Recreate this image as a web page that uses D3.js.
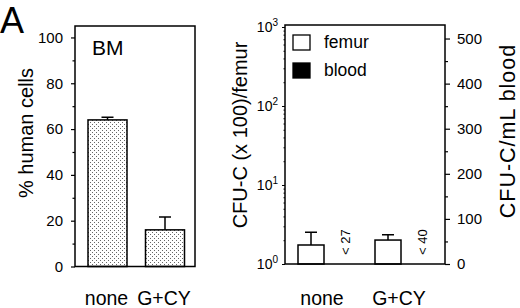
<!DOCTYPE html>
<html>
<head>
<meta charset="utf-8">
<script src="https://cdn.jsdelivr.net/npm/d3@7"></script>
<style>
  body { margin: 0; background: #fff; }
  svg { font-family: "Liberation Sans", Arial, sans-serif; }
</style>
</head>
<body>
<script>
// data
var categories = ["none", "G+CY"];
var humanCells = [64, 16];          // % human cells in BM
var humanCellsErr = [1.2, 5.6];
var femurCFU = [1.74, 2.01];         // CFU-C (x 100)/femur
var femurCFUErr = [0.78, 0.34];
var bloodLabels = ["< 27", "< 40"]; // CFU-C/mL blood, below detection
var leftTicks = [0, 20, 40, 60, 80, 100];
var logTicks = [1, 10, 100, 1000];
var bloodTicks = [0, 100, 200, 300, 400, 500];

var width = 520, height = 308;

var svg = d3.select("body").append("svg")
    .attr("width", width)
    .attr("height", height);

// stipple fill for the BM bars
var pat = svg.append("defs").append("pattern")
    .attr("id", "stipple")
    .attr("width", 4).attr("height", 4)
    .attr("patternUnits", "userSpaceOnUse");
pat.append("rect").attr("width", 4).attr("height", 4).attr("fill", "#fff");
pat.append("rect").attr("x", 0).attr("y", 0).attr("width", 1).attr("height", 1).attr("fill", "#666");
pat.append("rect").attr("x", 2).attr("y", 2).attr("width", 1).attr("height", 1).attr("fill", "#666");

svg.append("text")
    .attr("x", 0).attr("y", 33)
    .attr("font-size", 36)
    .text("A");

// ---------- left panel ----------
var L = { x0: 75, x1: 195, y0: 26, y1: 266.5 };

var yL = d3.scaleLinear().domain([0, 105]).range([L.y1, L.y0]);
var xL = d3.scalePoint().domain(categories).range([107.5, 165]);
var barW = 39;

var left = svg.append("g");

left.selectAll(".bar")
    .data(categories)
    .enter().append("rect")
    .attr("x", function(d) { return xL(d) - barW / 2; })
    .attr("y", function(d, i) { return yL(humanCells[i]); })
    .attr("width", barW)
    .attr("height", function(d, i) { return yL(0) - yL(humanCells[i]); })
    .attr("fill", "url(#stipple)")
    .attr("stroke", "#000")
    .attr("stroke-width", 1.5);

left.selectAll(".err")
    .data(categories)
    .enter().append("path")
    .attr("d", function(d, i) {
        var cx = xL(d), top = yL(humanCells[i] + humanCellsErr[i]);
        return "M" + cx + "," + yL(humanCells[i]) + "V" + top + "M" + (cx - 6) + "," + top + "H" + (cx + 6);
    })
    .attr("stroke", "#000")
    .attr("stroke-width", 1.5)
    .attr("fill", "none");

left.append("rect")
    .attr("x", L.x0).attr("y", L.y0)
    .attr("width", L.x1 - L.x0).attr("height", L.y1 - L.y0)
    .attr("fill", "none").attr("stroke", "#000").attr("stroke-width", 1.5);

var axL = left.append("g")
    .attr("transform", "translate(" + L.x0 + ",0)")
    .call(d3.axisLeft(yL).tickValues(leftTicks).tickSize(4).tickPadding(8));
axL.append("g")
    .call(d3.axisLeft(yL).tickValues([10, 30, 50, 70, 90]).tickSize(2.5).tickFormat(""));
axL.selectAll(".domain").remove();
axL.selectAll("text").attr("font-size", 15).attr("fill", "#000").attr("font-family", null);
axL.selectAll("line").attr("stroke-width", 1.2);

left.append("text")
    .attr("x", 92).attr("y", 55)
    .attr("font-size", 21)
    .text("BM");

left.append("text")
    .attr("transform", "translate(33,133) rotate(-90)")
    .attr("text-anchor", "middle")
    .attr("font-size", 20)
    .text("% human cells");

left.selectAll(".cat")
    .data(categories)
    .enter().append("text")
    .attr("x", function(d) { return xL(d) - 1; })
    .attr("y", 305)
    .attr("text-anchor", "middle")
    .attr("font-size", 19.5)
    .text(function(d) { return d; });

// ---------- right panel ----------
var R = { x0: 285, x1: 445, y0: 25, y1: 264 };

var yLog = d3.scaleLog().domain([1, 1060]).range([R.y1, R.y0]);
var yLin = d3.scaleLinear().domain([0, 530]).range([R.y1, R.y0]);
var xR = d3.scalePoint().domain(categories).range([328, 405]);
var seriesOffset = d3.scalePoint().domain(["femur", "blood"]).range([-17, 17]);
var barW2 = 26;

var right = svg.append("g");

right.selectAll(".bar")
    .data(categories)
    .enter().append("rect")
    .attr("x", function(d) { return xR(d) + seriesOffset("femur") - barW2 / 2; })
    .attr("y", function(d, i) { return yLog(femurCFU[i]); })
    .attr("width", barW2)
    .attr("height", function(d, i) { return yLog(1) - yLog(femurCFU[i]); })
    .attr("fill", "#fff")
    .attr("stroke", "#000")
    .attr("stroke-width", 1.5);

right.selectAll(".err")
    .data(categories)
    .enter().append("path")
    .attr("d", function(d, i) {
        var cx = xR(d) + seriesOffset("femur"), top = yLog(femurCFU[i] + femurCFUErr[i]);
        return "M" + cx + "," + yLog(femurCFU[i]) + "V" + top + "M" + (cx - 6) + "," + top + "H" + (cx + 6);
    })
    .attr("stroke", "#000")
    .attr("stroke-width", 1.5)
    .attr("fill", "none");

right.selectAll(".blood")
    .data(categories)
    .enter().append("text")
    .attr("transform", function(d) {
        return "translate(" + (xR(d) + seriesOffset("blood") + 4.5) + ",255) rotate(-90)";
    })
    .attr("font-size", 13)
    .text(function(d, i) { return bloodLabels[i]; });

right.append("rect")
    .attr("x", R.x0).attr("y", R.y0)
    .attr("width", R.x1 - R.x0).attr("height", R.y1 - R.y0)
    .attr("fill", "none").attr("stroke", "#000").attr("stroke-width", 1.5);

// log axis, left
var minorLog = [];
logTicks.slice(0, -1).forEach(function(t) {
    for (var k = 2; k < 10; k++) minorLog.push(t * k);
});
var axLog = right.append("g")
    .attr("transform", "translate(" + R.x0 + ",0)")
    .call(d3.axisLeft(yLog).tickValues(logTicks).tickSize(3).tickPadding(4).tickFormat(""));
axLog.append("g")
    .call(d3.axisLeft(yLog).tickValues(minorLog).tickSize(1.5).tickFormat(""));
axLog.selectAll(".domain").remove();
axLog.selectAll("line").attr("stroke-width", 1);
axLog.selectAll(".tick text")
    .attr("font-size", 14).attr("fill", "#000").attr("font-family", null)
    .each(function(d) {
        if (minorLog.indexOf(d) >= 0) return;
        var t = d3.select(this);
        t.append("tspan").text("10");
        t.append("tspan").attr("dy", -6).attr("font-size", 10).text(Math.round(Math.log10(d)));
    });

// linear axis, right
var axLin = right.append("g")
    .attr("transform", "translate(" + R.x1 + ",0)")
    .call(d3.axisRight(yLin).tickValues(bloodTicks).tickSize(5).tickPadding(7));
axLin.append("g")
    .call(d3.axisRight(yLin).tickValues([50, 150, 250, 350, 450]).tickSize(3).tickFormat(""));
axLin.selectAll(".domain").remove();
axLin.selectAll("text").attr("font-size", 15).attr("fill", "#000").attr("font-family", null);
axLin.selectAll("line").attr("stroke-width", 1.2);

right.append("text")
    .attr("transform", "translate(247,135) rotate(-90)")
    .attr("text-anchor", "middle")
    .attr("font-size", 20)
    .text("CFU-C (x 100)/femur");

right.append("text")
    .attr("transform", "translate(515,131) rotate(-90)")
    .attr("text-anchor", "middle")
    .attr("font-size", 21.5)
    .attr("letter-spacing", 1)
    .text("CFU-C/mL blood");

right.selectAll(".cat")
    .data(categories)
    .enter().append("text")
    .attr("x", function(d) { return xR(d) - 6; })
    .attr("y", 305)
    .attr("text-anchor", "middle")
    .attr("font-size", 19.5)
    .text(function(d) { return d; });

// legend
var legend = right.selectAll(".legend")
    .data(["femur", "blood"])
    .enter().append("g")
    .attr("transform", function(d, i) { return "translate(293," + (35 + i * 28) + ")"; });
legend.append("rect")
    .attr("width", 17).attr("height", 15)
    .attr("fill", function(d) { return d == "femur" ? "#fff" : "#000"; })
    .attr("stroke", "#000").attr("stroke-width", 1.3);
legend.append("text")
    .attr("x", 31).attr("y", 13)
    .attr("font-size", 17.5)
    .text(function(d) { return d; });
</script>
</body>
</html>
